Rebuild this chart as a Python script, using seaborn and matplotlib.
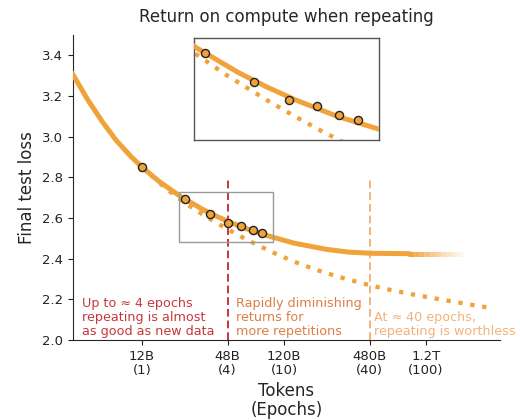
import numpy as np
import pandas as pd
import matplotlib
matplotlib.use("Agg")
import matplotlib.pyplot as plt
import seaborn as sns
import matplotlib.patches as patches
from matplotlib.collections import LineCollection

# repeated-data curve (tokens in billions)
repeat_tokens = [3.9, 5.0, 6.3, 7.9, 10, 12, 15.8, 22.4, 31.6, 39.8, 50, 70.8, 100, 141, 240, 340, 490, 900]
repeat_loss = [3.306, 3.178, 3.073, 2.981, 2.903, 2.85, 2.780, 2.706, 2.645, 2.610, 2.579, 2.538, 2.506,
               2.477, 2.446, 2.433, 2.427, 2.425]
# flat tail that fades out
tail_tokens = [900, 980, 1070, 1170, 1280, 1400, 1530, 1670, 1820, 1990, 2170, 2370]
tail_loss = [2.425] * len(tail_tokens)

# unique data (dotted)
new_tokens = [12, 17.8, 22.4, 28.2, 39.8, 50.1, 63.1, 79.4, 100, 141, 200, 282, 447, 631, 1000, 1585, 2512, 3548]
new_loss = [2.85, 2.743, 2.690, 2.642, 2.578, 2.538, 2.500, 2.465, 2.431, 2.386, 2.347, 2.314, 2.276, 2.251,
            2.223, 2.198, 2.174, 2.157]

# measured runs, epochs 1..7
run_tokens = [12, 24, 36, 48, 60, 72, 84]
run_loss = [2.85, 2.693, 2.622, 2.577, 2.563, 2.541, 2.528]

tick_pos = [12, 48, 120, 480, 1200]
tick_labels = ["12B\n(1)", "48B\n(4)", "120B\n(10)", "480B\n(40)", "1.2T\n(100)"]

ORANGE = "#F0A33A"
RED = "#C7373A"
MID = "#DD7E45"
LIGHT = "#F2B37A"

df_rep = pd.DataFrame({"tokens": repeat_tokens, "loss": repeat_loss})
df_new = pd.DataFrame({"tokens": new_tokens, "loss": new_loss})
df_runs = pd.DataFrame({"tokens": run_tokens, "loss": run_loss})

sns.set_style("ticks")
plt.rcParams['font.family'] = ['DejaVu Sans']

fig = plt.figure(figsize=(5.2, 4.2), dpi=100)
ax = fig.add_axes([0.140, 0.190, 0.822, 0.727])


def draw_curves(a):
    sns.lineplot(data=df_new, x="tokens", y="loss", ax=a, color=ORANGE, lw=3.1,
                 linestyle=(0, (1, 1.8)), zorder=2)
    sns.lineplot(data=df_rep, x="tokens", y="loss", ax=a, color=ORANGE, lw=3.6,
                 zorder=3, solid_capstyle="projecting")
    sns.scatterplot(data=df_runs, x="tokens", y="loss", ax=a, color=ORANGE,
                    edgecolor="#222222", linewidth=1.0, s=34, zorder=4)


draw_curves(ax)

# fading tail of the repeated-data curve
segs = [[(tail_tokens[i], tail_loss[i]), (tail_tokens[i + 1], tail_loss[i + 1])]
        for i in range(len(tail_tokens) - 1)]
alphas = np.linspace(1.0, 0.04, len(segs)) ** 1.2
cols = [matplotlib.colors.to_rgba(ORANGE, a) for a in alphas]
ax.add_collection(LineCollection(segs, colors=cols, linewidths=3.6, capstyle="butt", zorder=3))

ax.set_xscale("log")
ax.set_xlim(3.9, 4000)
ax.set_ylim(2.0, 3.5)
yt = np.arange(2.0, 3.41, 0.2)
ax.set_yticks(yt)
ax.set_yticklabels([f"{v:.1f}" for v in yt])
ax.set_xticks(tick_pos)
ax.set_xticklabels(tick_labels, linespacing=1.1)
ax.minorticks_off()
ax.tick_params(labelsize=9.5, length=3.5, colors="#222222")
sns.despine(ax=ax)

ax.set_xlabel("Tokens\n(Epochs)", fontsize=12, labelpad=4, linespacing=1.05)
ax.set_ylabel("Final test loss", fontsize=12)
ax.set_title("Return on compute when repeating", fontsize=12, pad=9)

# vertical markers
ax.vlines(48, 2.0, 2.8, colors=RED, linestyles=(0, (4, 2)), lw=1.4, zorder=1)
ax.vlines(480, 2.0, 2.8, colors=LIGHT, linestyles=(0, (4, 2)), lw=1.4, zorder=1)

ax.text(4.55, 2.012, "Up to \u2248 4 epochs\nrepeating is almost\nas good as new data",
        color=RED, fontsize=9.2, va="bottom", ha="left", linespacing=1.1)
ax.text(55, 2.012, "Rapidly diminishing\nreturns for\nmore repetitions",
        color=MID, fontsize=9.2, va="bottom", ha="left", linespacing=1.1)
ax.text(520, 2.012, "At \u2248 40 epochs,\nrepeating is worthless",
        color=LIGHT, fontsize=9.2, va="bottom", ha="left", linespacing=1.1)

# zoom box
x0, x1, y0, y1 = 22, 100, 2.48, 2.73
ax.add_patch(patches.Rectangle((x0, y0), x1 - x0, y1 - y0, fill=False,
                               edgecolor="#999999", lw=1.0, zorder=5))

axins = fig.add_axes([0.373, 0.667, 0.356, 0.243])
draw_curves(axins)
axins.set_xscale("log")
axins.set_xlim(x0, x1)
axins.set_ylim(y0, y1)
axins.set_xticks([])
axins.set_yticks([])
axins.minorticks_off()
axins.set_xlabel("")
axins.set_ylabel("")
for s in axins.spines.values():
    s.set_color("#555555")
    s.set_linewidth(1.0)

for xa, ya, xb, yb in [(0, 1, x0, y0), (1, 0, x1, y0)]:
    con = patches.ConnectionPatch(xyA=(xa, ya), coordsA=axins.transAxes,
                                  xyB=(xb, yb), coordsB=ax.transData,
                                  color="#999999", lw=0.8, zorder=0)
    fig.add_artist(con)

fig.savefig("out.png", dpi=100)
